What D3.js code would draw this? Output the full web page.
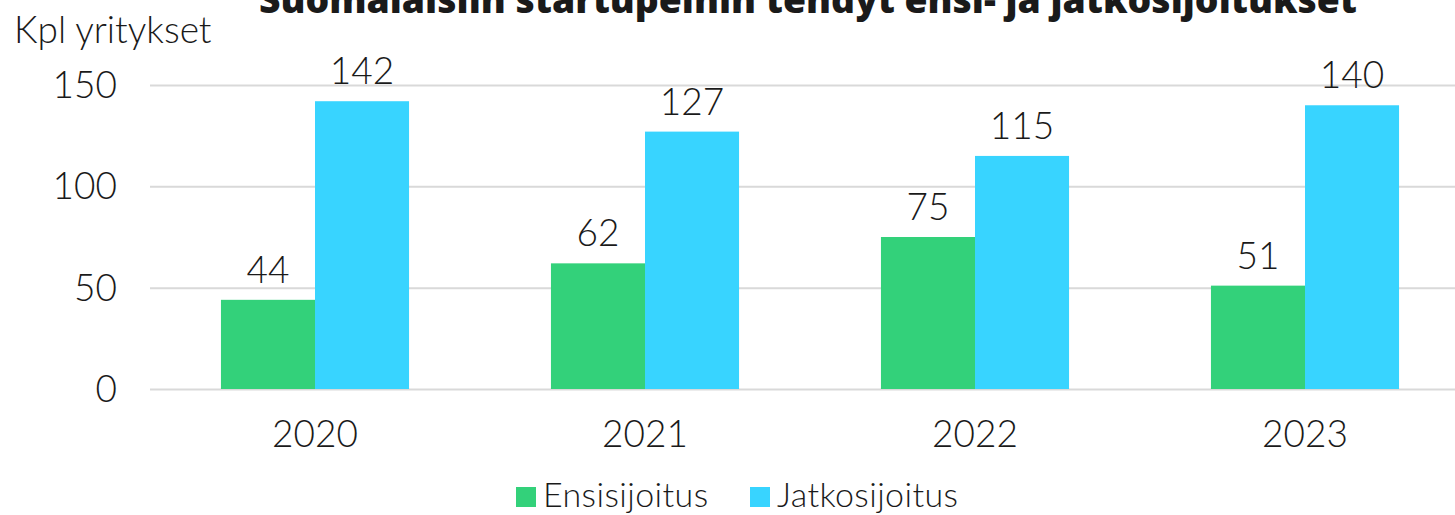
<html>
<meta charset="utf-8">
<head>
  <title>Suomalaisiin startupeihin tehdyt ensi- ja jatkosijoitukset</title>
  <style>
    body, html { margin: 0; padding: 0; background: #ffffff; }
    text { font-family: 'Lato', 'Open Sans', sans-serif; font-weight: 300; fill: #1a1a1a; }
    .title { font-family: 'Open Sans', sans-serif; font-weight: 800; }
    .grid line { stroke: #d9d9d9; stroke-width: 2; }
    .grid path { display: none; }
  </style>
  <script src="https://d3js.org/d3.v7.min.js"></script>
</head>
<body>
<div id="chart"></div>
<script>
var years = ["2020", "2021", "2022", "2023"];
var series = ["Ensisijoitus", "Jatkosijoitus"];
var ensi = [44, 62, 75, 51];
var jatko = [142, 127, 115, 140];
var y_ticks = [0, 50, 100, 150];
var colors = ["#33d17a", "#38d4ff"];

var width = 1455, height = 515;
var margin = { top: 85, right: 0, bottom: 126, left: 150 };

var svg = d3.select("#chart").append("svg")
            .attr("width", width)
            .attr("height", height);

var scale_x = d3.scaleBand()
                .domain(years)
                .range([margin.left, 1470])
                .paddingInner(0.43)
                .paddingOuter(0.215);
var scale_sub = d3.scaleBand()
                  .domain(series)
                  .range([0, scale_x.bandwidth()]);
var scale_y = d3.scaleLinear()
                .domain([0, 150])
                .range([389, 85]);

// gridlines
svg.append("g")
   .attr("class", "grid")
   .attr("transform", "translate(" + margin.left + ",0)")
   .call(d3.axisLeft(scale_y).tickValues(y_ticks).tickSize(-(width - margin.left)).tickFormat(""));

svg.selectAll(".ytick")
   .data(y_ticks)
   .enter()
   .append("text")
   .attr("x", 117)
   .attr("y", function(d) { return scale_y(d) + 13; })
   .attr("text-anchor", "end")
   .style("font-size", "37px")
   .text(function(d) { return d; });

var rows = years.map(function(y, i) {
  return { year: y, values: [ensi[i], jatko[i]] };
});

var groups = svg.selectAll(".grp")
                .data(rows)
                .enter()
                .append("g")
                .attr("transform", function(d) { return "translate(" + scale_x(d.year) + ",0)"; });

groups.selectAll("rect")
      .data(function(d) { return d.values.map(function(v, j) { return { s: series[j], v: v, j: j }; }); })
      .enter()
      .append("rect")
      .attr("x", function(d) { return scale_sub(d.s); })
      .attr("width", scale_sub.bandwidth())
      .attr("y", function(d) { return scale_y(d.v); })
      .attr("height", function(d) { return scale_y(0) - scale_y(d.v); })
      .attr("fill", function(d) { return colors[d.j]; });

groups.selectAll(".lbl")
      .data(function(d) { return d.values.map(function(v, j) { return { s: series[j], v: v }; }); })
      .enter()
      .append("text")
      .attr("x", function(d) { return scale_sub(d.s) + scale_sub.bandwidth() / 2; })
      .attr("y", function(d) { return scale_y(d.v) - 17; })
      .attr("text-anchor", "middle")
      .style("font-size", "37px")
      .text(function(d) { return d.v; });

svg.selectAll(".xlbl")
   .data(years)
   .enter()
   .append("text")
   .attr("x", function(d) { return scale_x(d) + scale_x.bandwidth() / 2; })
   .attr("y", 447)
   .attr("text-anchor", "middle")
   .style("font-size", "37px")
   .text(function(d) { return d; });

svg.append("text")
   .attr("x", 14)
   .attr("y", 43)
   .style("font-size", "37px")
   .text("Kpl yritykset");

// title is cut by the top edge, as in the source picture
svg.append("text")
   .attr("class", "title")
   .attr("x", 808)
   .attr("y", 13)
   .attr("text-anchor", "middle")
   .style("font-size", "37.3px")
   .text("Suomalaisiin startupeihin tehdyt ensi- ja jatkosijoitukset");

// legend
var legend_x = [516, 750];
var leg = svg.selectAll(".leg")
             .data(series)
             .enter()
             .append("g")
             .attr("transform", function(d, i) { return "translate(" + legend_x[i] + ",487)"; });
leg.append("rect")
   .attr("width", 20)
   .attr("height", 20)
   .attr("fill", function(d, i) { return colors[i]; });
leg.append("text")
   .attr("x", 27)
   .attr("y", 20)
   .style("font-size", "34px")
   .style("letter-spacing", "0.4px")
   .text(function(d) { return d; });
</script>
</body>
</html>
